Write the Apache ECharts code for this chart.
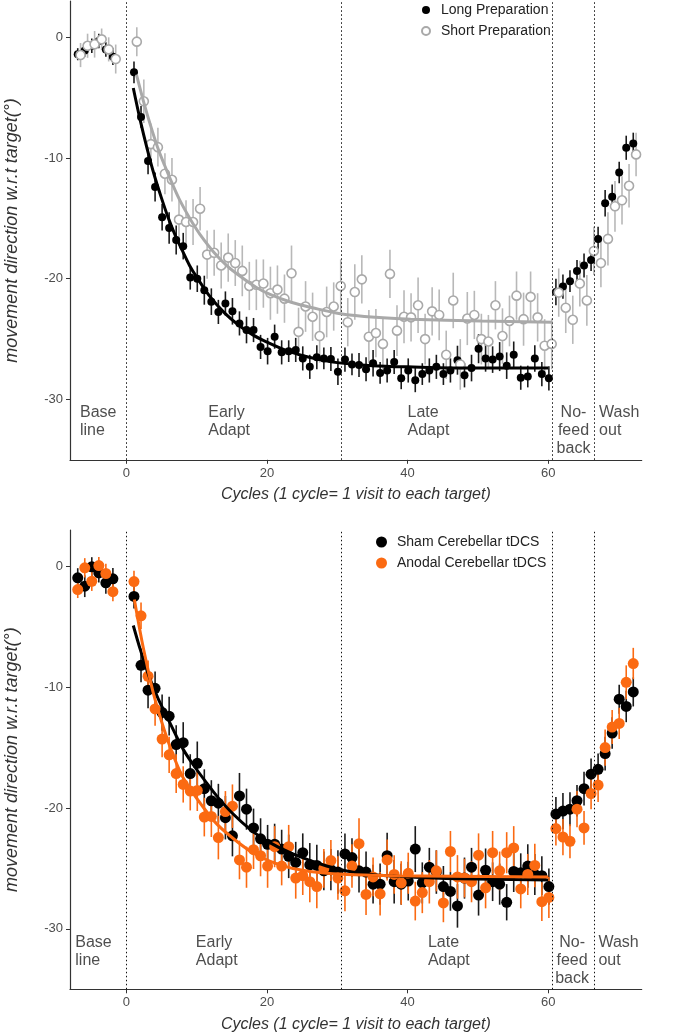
<!DOCTYPE html>
<html><head><meta charset="utf-8">
<script src="https://cdn.jsdelivr.net/npm/echarts@6/dist/echarts.min.js"></script>
<style>html,body{margin:0;padding:0;background:#fff}#c{width:675px;height:1035px}</style>
</head><body><div id="c"></div>
<script>
const cycles = [-7,-6,-5,-4,-3,-2,1,2,3,4,5,6,7,8,9,10,11,12,13,14,15,16,17,18,19,20,21,22,23,24,25,26,27,28,29,30,31,32,33,34,35,36,37,38,39,40,41,42,43,44,45,46,47,48,49,50,51,52,53,54,55,56,57,58,59,60,61,62,63,64,65,66,67,68,69,70,71,72];

const longPrep = [-1.4,-1.1,-0.7,-0.3,-1.0,-1.6,
-2.9,-6.6,-10.25,-12.4,-14.9,-15.8,-16.8,-17.3,-19.9,-20.0,
-20.95,-21.9,-22.75,-22.05,-22.7,-23.7,-24.25,-24.25,-25.65,-26.0,
-24.8,-26.1,-26.0,-25.9,-26.6,-27.3,-26.5,-26.6,-26.65,-27.7,
-26.7,-27.1,-27.15,-27.5,-27.0,-27.8,-27.6,-26.9,-28.25,-27.6,
-28.4,-27.9,-27.6,-27.3,-27.9,-27.6,-26.75,-28.0,-27.4,-25.8,
-26.6,-26.7,-26.45,-27.2,-26.3,-28.2,-28.1,-26.6,-27.9,-28.25,
-21.1,-20.65,-20.2,-19.35,-18.9,-18.45,
-16.7,-13.75,-13.2,-11.2,-9.15,-8.8];
const longErr = [0.5,0.5,0.6,0.6,0.6,0.7,
0.9,0.9,1.1,1.2,1.1,1.3,1.2,1.1,1.0,1.1,
1.2,1.1,1.0,1.0,1.1,1.0,1.1,1.0,1.0,1.1,
1.0,1.0,0.9,1.0,1.0,1.0,1.0,0.9,1.0,1.1,
1.0,0.9,1.0,1.0,1.1,0.9,1.0,1.0,0.9,1.0,
1.0,0.9,1.0,1.0,0.9,1.0,1.2,1.0,1.1,1.2,
1.1,1.1,1.2,1.1,1.1,1.0,0.9,1.1,1.0,1.0,
1.1,1.0,0.9,0.9,1.0,0.9,
1.0,1.1,1.0,0.9,1.0,0.9];

const shortPrep = [-1.47,-0.7,-0.58,-0.17,-1.0,-1.8,
-0.36,-5.3,-8.85,-9.1,-11.3,-11.8,-15.1,-15.3,-15.3,-14.2,
-18.0,-17.85,-18.9,-18.25,-18.7,-19.35,-20.6,-20.5,-20.4,-21.2,
-20.9,-21.65,-19.55,-24.4,-22.3,-23.15,-24.75,-22.75,-22.3,-20.6,
-23.6,-21.1,-20.05,-24.8,-24.5,-25.4,-19.6,-24.3,-23.15,-23.2,
-22.2,-25.0,-22.7,-23.0,-26.3,-21.8,-27.1,-23.3,-23.0,-25.0,
-25.2,-22.2,-24.75,-23.5,-21.4,-23.35,-21.5,-23.2,-25.55,-25.4,
-21.15,-22.4,-23.4,-20.4,-21.8,-17.7,
-18.7,-16.7,-14.0,-13.5,-12.3,-9.7];
const shortErr = [1.0,1.0,1.1,0.9,1.0,1.2,
1.2,1.8,1.7,1.6,1.7,1.8,1.9,1.8,1.9,1.8,
2.0,1.9,1.9,2.0,1.9,2.1,2.0,2.1,2.0,2.2,
2.0,2.0,2.3,2.0,2.1,2.0,2.2,2.1,2.0,2.2,
2.0,2.3,2.0,2.2,2.0,2.1,2.0,2.1,2.2,2.0,
2.3,2.1,2.0,2.1,2.0,2.3,2.1,2.2,2.0,2.1,
2.2,2.0,2.3,2.1,2.0,2.2,2.1,2.0,2.2,2.1,
2.0,2.1,2.0,1.9,2.1,2.0,
2.0,2.2,2.1,2.0,1.8,1.8];

const sham = [-0.96,-1.65,-0.05,-0.55,-1.37,-1.04,
-2.5,-8.2,-10.25,-10.1,-12.1,-12.4,-14.75,-14.6,-17.15,-16.3,
-18.4,-19.4,-19.6,-20.8,-22.3,-19.0,-20.1,-21.65,-22.55,-23.0,
-23.0,-23.4,-24.0,-24.5,-23.7,-24.7,-24.75,-25.2,-25.1,-25.3,
-23.8,-24.1,-25.2,-25.3,-26.3,-26.3,-23.95,-26.1,-26.3,-26.05,
-23.4,-26.2,-24.9,-25.3,-26.5,-26.9,-28.1,-25.8,-24.9,-27.2,
-25.15,-26.1,-26.3,-27.8,-25.25,-25.35,-24.8,-25.5,-25.6,-26.5,
-20.5,-20.25,-20.1,-19.4,-18.4,-17.2,
-16.8,-15.5,-13.8,-11.0,-11.6,-10.4];
const shamErr = [0.8,0.9,0.8,0.8,0.9,0.9,
1.0,1.4,1.5,1.4,1.5,1.6,1.6,1.7,1.6,1.8,
1.6,1.7,1.6,1.8,1.7,1.9,1.7,1.6,1.7,1.6,
1.7,1.6,1.8,1.7,1.6,1.8,1.7,1.6,1.7,1.8,
1.7,1.6,1.8,1.7,1.6,1.7,1.9,1.8,1.7,1.6,
1.9,1.7,1.6,1.8,1.7,1.6,1.8,1.7,1.6,1.7,
1.8,1.6,1.7,1.5,1.7,1.6,1.8,1.7,1.6,1.5,
1.4,1.5,1.4,1.3,1.4,1.3,
1.3,1.4,1.3,1.2,1.3,1.2];

const anodal = [-1.93,-0.13,-1.24,0.06,-0.6,-2.1,
-1.27,-4.1,-9.1,-11.8,-14.3,-15.6,-17.15,-18.05,-18.6,-18.55,
-20.75,-20.7,-22.45,-20.3,-19.85,-24.3,-24.9,-23.45,-23.95,-24.8,
-23.2,-24.8,-23.2,-25.8,-25.6,-26.1,-26.5,-25.0,-24.35,-25.8,
-26.85,-24.8,-22.95,-27.15,-25.7,-27.1,-24.3,-25.5,-26.2,-25.4,
-27.7,-27.0,-26.1,-25.2,-27.85,-23.6,-25.7,-25.8,-26.1,-23.9,
-26.6,-23.7,-25.2,-23.7,-23.3,-26.7,-25.5,-24.75,-27.75,-27.4,
-21.7,-22.4,-22.75,-20.1,-21.65,-18.8,
-18.1,-15.0,-13.3,-13.0,-9.6,-8.05];
const anodalErr = [0.7,0.8,0.8,0.7,0.8,0.8,
0.9,1.1,1.3,1.4,1.5,1.5,1.6,1.5,1.6,1.7,
1.6,1.7,1.8,1.7,1.8,1.6,1.7,1.6,1.7,1.8,
1.7,1.6,1.8,1.7,1.6,1.7,1.8,1.6,1.7,1.8,
1.7,1.8,2.1,1.7,1.6,1.8,1.7,1.6,1.8,1.7,
1.6,1.7,1.8,1.7,1.6,1.7,1.8,1.6,1.7,1.8,
1.7,1.8,1.6,1.7,1.8,1.6,1.7,1.8,1.6,1.7,
1.4,1.5,1.4,1.5,1.4,1.3,
1.4,1.5,1.4,1.3,1.4,1.3];

// fitted exponential curves as [cycle, value]
const longFit = [[1,-4.2],[2,-6.9],[3,-9.3],[4,-11.45],[5,-13.3],[6,-15.0],[7,-16.45],[8,-17.7],[9,-18.9],[10,-19.85],[12,-21.55],[14,-22.85],[16,-23.85],[18,-24.65],[20,-25.25],[23,-26.0],[26,-26.5],[30,-26.95],[35,-27.2],[40,-27.3],[50,-27.4],[60,-27.4]];
const shortFit = [[1.45,-3.1],[2.45,-5.3],[3.45,-7.3],[4.45,-9.1],[5.45,-10.6],[6.45,-12.0],[7.45,-13.3],[8.45,-14.4],[9.45,-15.4],[10.45,-16.3],[12.45,-17.8],[14.45,-19.0],[16.45,-19.9],[18.45,-20.7],[20.45,-21.3],[23.45,-21.95],[26.45,-22.4],[30.45,-22.9],[35.45,-23.2],[40.45,-23.35],[50.45,-23.5],[60.6,-23.6]];
const shamFit = [[1,-4.9],[2,-6.9],[3,-8.7],[3.6,-9.65],[4.5,-10.9],[5.75,-12.4],[7,-13.9],[8.1,-15.15],[9.5,-16.4],[11.4,-17.9],[13,-19.1],[15.2,-20.5],[17.5,-21.7],[19.9,-22.7],[23.7,-23.8],[28.5,-24.8],[33.2,-25.4],[40.3,-25.7],[47.4,-25.85],[60,-25.95]];
const anodalFit = [[1.15,-2.75],[2.2,-6.1],[3,-8.3],[3.85,-10.5],[5,-12.8],[6.2,-14.9],[7.5,-16.8],[8.5,-17.9],[10.9,-19.9],[13,-21.4],[15.7,-22.75],[18,-23.7],[20.4,-24.4],[23.7,-25.0],[28.5,-25.4],[37.9,-25.6],[60,-25.7]];

const xTicks = [0, 20, 40, 60];
const yTicks = [-30, -20, -10, 0];
const phaseBounds = [0, 30.6, 60.6, 66.6];
const phaseLabels = ['Base\nline', 'Early\nAdapt', 'Late\nAdapt', 'No-\nfeed\nback', 'Wash\nout'];
const legendTop = ['Long Preparation', 'Short Preparation'];
const legendBottom = ['Sham Cerebellar tDCS', 'Anodal Cerebellar tDCS'];

const FONT = '"Liberation Sans", Arial, sans-serif';
const GREY = '#a9a9a9';
const ORANGE = '#fb6a12';

function pts(vals, off) { return cycles.map((c, i) => [c + off, vals[i]]); }
function bars(vals, errs, off) { return cycles.map((c, i) => [c + off, vals[i] - errs[i], vals[i] + errs[i]]); }
function errSeries(idx, data, color, z) {
  return {
    type: 'custom', xAxisIndex: idx, yAxisIndex: idx, z: z, silent: true,
    data: data, encode: { x: 0, y: [1, 2] },
    renderItem: function (params, api) {
      const a = api.coord([api.value(0), api.value(1)]);
      const b = api.coord([api.value(0), api.value(2)]);
      return { type: 'line', shape: { x1: a[0], y1: a[1], x2: b[0], y2: b[1] }, style: { stroke: color, lineWidth: 1.6 } };
    }
  };
}
function fitSeries(idx, data, color, z) {
  return { type: 'line', xAxisIndex: idx, yAxisIndex: idx, data: data, smooth: 0.35, showSymbol: false, symbol: 'none', z: z,
    lineStyle: { color: color, width: 3 }, silent: true };
}
function phaseSeries(idx, anchors) {
  return {
    type: 'scatter', xAxisIndex: idx, yAxisIndex: idx, symbolSize: 1, silent: true, z: 1,
    itemStyle: { color: 'rgba(0,0,0,0)' },
    data: phaseLabels.map((t, i) => ({ name: t, value: [anchors[i][0], anchors[i][1]],
      label: { align: anchors[i][2] } })),
    label: { show: true, position: 'inside', formatter: '{b}', verticalAlign: 'top',
      fontFamily: FONT, fontSize: 16, lineHeight: 18, color: '#222' },
    markLine: { symbol: 'none', silent: true, label: { show: false },
      lineStyle: { type: [1.5, 2.5], color: '#111', width: 1 },
      data: phaseBounds.map(v => ({ xAxis: v })) }
  };
}
function xAxisCfg(idx) {
  return {
    type: 'value', gridIndex: idx, min: -8, max: 73.3,
    name: 'Cycles (1 cycle= 1 visit to each target)', nameLocation: 'middle', nameGap: 27,
    nameTextStyle: { fontFamily: FONT, fontSize: 16, fontStyle: 'italic', color: '#333' },
    axisLine: { show: true, onZero: false, lineStyle: { color: '#333', width: 1.2 } },
    axisTick: { show: true, length: 4, lineStyle: { color: '#333' }, customValues: xTicks },
    axisLabel: { fontFamily: FONT, fontSize: 13, color: '#4d4d4d', margin: 7, customValues: xTicks },
    splitLine: { show: false }
  };
}
function yAxisCfg(idx) {
  return {
    type: 'value', gridIndex: idx, min: -35, max: 3,
    name: 'movement direction w.r.t target(°)', nameLocation: 'middle', nameGap: 49,
    nameTextStyle: { fontFamily: FONT, fontSize: 18, fontStyle: 'italic', color: '#333' },
    axisLine: { show: true, onZero: false, lineStyle: { color: '#333', width: 1.2 } },
    axisTick: { show: true, length: 4, lineStyle: { color: '#333' }, customValues: yTicks },
    axisLabel: { fontFamily: FONT, fontSize: 13, color: '#4d4d4d', margin: 7, customValues: yTicks },
    splitLine: { show: false }
  };
}

const chart = echarts.init(document.getElementById('c'), null, { renderer: 'canvas' });
chart.setOption({
  animation: false,
  backgroundColor: '#fff',
  grid: [
    { left: 70, right: 33.3, top: 1.1, height: 458.7, containLabel: false, outerBoundsMode: 'none' },
    { left: 70, right: 33.3, top: 530, height: 459.3, containLabel: false, outerBoundsMode: 'none' }
  ],
  xAxis: [xAxisCfg(0), xAxisCfg(1)],
  yAxis: [yAxisCfg(0), yAxisCfg(1)],
  legend: [
    { orient: 'vertical', left: 421, top: 3, padding: 0, itemWidth: 8, itemHeight: 8, itemGap: 7,
      textStyle: { fontFamily: FONT, fontSize: 14, color: '#222', padding: [0, 0, 0, 6] },
      data: [legendTop[0], legendTop[1]] },
    { orient: 'vertical', left: 376, top: 535, padding: 0, itemWidth: 11, itemHeight: 11, itemGap: 7,
      textStyle: { fontFamily: FONT, fontSize: 14, color: '#222', padding: [0, 0, 0, 5] },
      data: [legendBottom[0], legendBottom[1]] }
  ],
  series: [
    phaseSeries(0, [[-6.58, -30.38, 'left'], [11.66, -30.38, 'left'], [40.0, -30.38, 'left'], [63.6, -30.38, 'center'], [67.24, -30.38, 'left']]),
    errSeries(0, bars(longPrep, longErr, 0.1), '#1a1a1a', 2),
    errSeries(0, bars(shortPrep, shortErr, 0.5), '#b8b8b8', 2),
    { name: legendTop[0], type: 'scatter', xAxisIndex: 0, yAxisIndex: 0, data: pts(longPrep, 0.1), symbol: 'circle', symbolSize: 8, z: 3,
      itemStyle: { color: '#000', opacity: 1 }, silent: true },
    { name: legendTop[1], type: 'scatter', xAxisIndex: 0, yAxisIndex: 0, data: pts(shortPrep, 0.5), symbol: 'circle', symbolSize: 9, z: 4,
      itemStyle: { color: '#fff', borderColor: GREY, borderWidth: 1.6, opacity: 1 }, silent: true },
    fitSeries(0, longFit, '#000', 5),
    fitSeries(0, shortFit, GREY, 5),

    phaseSeries(1, [[-7.25, -30.36, 'left'], [9.9, -30.36, 'left'], [42.9, -30.36, 'left'], [63.4, -30.36, 'center'], [67.15, -30.36, 'left']]),
    errSeries(1, bars(sham, shamErr, 0.1), '#1a1a1a', 2),
    errSeries(1, bars(anodal, anodalErr, 0.1), ORANGE, 2),
    { name: legendBottom[0], type: 'scatter', xAxisIndex: 1, yAxisIndex: 1, data: pts(sham, 0.1), symbol: 'circle', symbolSize: 11, z: 3,
      itemStyle: { color: '#000', opacity: 1 }, silent: true },
    { name: legendBottom[1], type: 'scatter', xAxisIndex: 1, yAxisIndex: 1, data: pts(anodal, 0.1), symbol: 'circle', symbolSize: 11, z: 4,
      itemStyle: { color: ORANGE, opacity: 1 }, silent: true },
    fitSeries(1, shamFit, '#000', 5),
    fitSeries(1, anodalFit, ORANGE, 5)
  ]
});
</script>
</body></html>
